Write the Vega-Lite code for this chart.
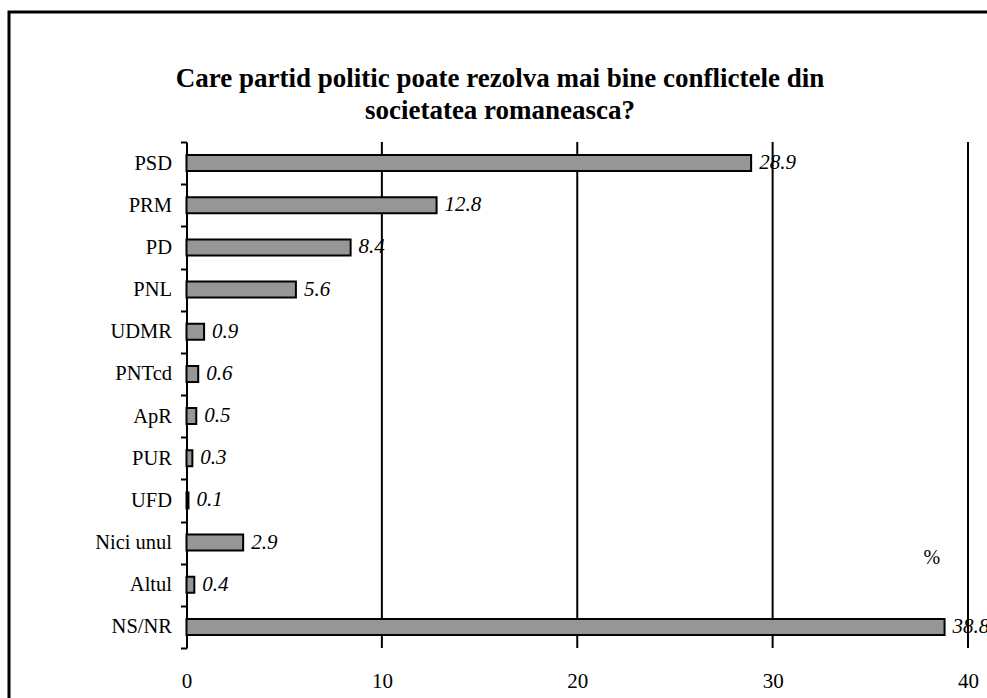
{
  "$schema": "https://vega.github.io/schema/vega-lite/v6.json",
  "width": 1000,
  "height": 700,
  "autosize": {"type": "none"},
  "padding": {"left": 9, "top": 12, "right": 0, "bottom": 0},
  "background": "white",
  "config": {
    "view": {"stroke": "black", "strokeWidth": 3},
    "font": "Liberation Serif"
  },
  "title": {
    "text": ["Care partid politic poate rezolva mai bine conflictele din", "societatea romaneasca?"],
    "font": "Liberation Serif",
    "fontSize": 27,
    "fontWeight": "bold",
    "color": "black",
    "anchor": "middle",
    "frame": "group",
    "baseline": "top",
    "offset": 0,
    "dy": 123,
    "dx": -9,
    "lineHeight": 32
  },
  "datasets": {
    "bars": [
      {"partid": "PSD", "procent": 28.9},
      {"partid": "PRM", "procent": 12.8},
      {"partid": "PD", "procent": 8.4},
      {"partid": "PNL", "procent": 5.6},
      {"partid": "UDMR", "procent": 0.9},
      {"partid": "PNTcd", "procent": 0.6},
      {"partid": "ApR", "procent": 0.5},
      {"partid": "PUR", "procent": 0.3},
      {"partid": "UFD", "procent": 0.1},
      {"partid": "Nici unul", "procent": 2.9},
      {"partid": "Altul", "procent": 0.4},
      {"partid": "NS/NR", "procent": 38.8}
    ],
    "grid": [{"g": 10}, {"g": 20}, {"g": 30}, {"g": 40}],
    "unit": [{"t": "%"}]
  },
  "layer": [
    {
      "data": {"name": "grid"},
      "mark": {"type": "rule", "color": "black", "strokeWidth": 2},
      "encoding": {
        "x": {"field": "g", "type": "quantitative"},
        "y": {"datum": "PSD", "type": "nominal", "bandPosition": 0},
        "y2": {"datum": "NS/NR", "bandPosition": 1}
      }
    },
    {
      "data": {"name": "bars"},
      "mark": {"type": "bar", "fill": "#969696", "stroke": "black", "strokeWidth": 2, "size": 16},
      "encoding": {
        "x": {
          "field": "procent",
          "type": "quantitative",
          "scale": {"domain": [0, 40], "range": [177.5, 959], "nice": false, "zero": true},
          "axis": {
            "orient": "bottom",
            "offset": -42,
            "domain": false,
            "ticks": false,
            "grid": false,
            "values": [0, 10, 20, 30, 40],
            "labelFontSize": 21,
            "labelFont": "Liberation Serif",
            "labelColor": "black",
            "labelPadding": 0,
            "labelBaseline": "top",
            "labelFlush": false,
            "title": null
          }
        },
        "y": {
          "field": "partid",
          "type": "nominal",
          "sort": null,
          "scale": {
            "domain": ["PSD", "PRM", "PD", "PNL", "UDMR", "PNTcd", "ApR", "PUR", "UFD", "Nici unul", "Altul", "NS/NR"],
            "range": [130, 636],
            "paddingInner": 0,
            "paddingOuter": 0
          },
          "axis": {
            "orient": "left",
            "offset": -177.5,
            "domainColor": "black",
            "domainWidth": 2,
            "tickColor": "black",
            "tickWidth": 2,
            "tickSize": 6,
            "tickBand": "extent",
            "labelFontSize": 20.5,
            "labelFont": "Liberation Serif",
            "labelColor": "black",
            "labelPadding": 9,
            "grid": false,
            "title": null
          }
        }
      }
    },
    {
      "data": {"name": "bars"},
      "mark": {"type": "text", "align": "left", "baseline": "middle", "dx": 8, "fontSize": 21, "fontStyle": "italic", "font": "Liberation Serif", "color": "black"},
      "encoding": {
        "x": {"field": "procent", "type": "quantitative"},
        "y": {"field": "partid", "type": "nominal", "sort": null},
        "text": {"field": "procent", "type": "quantitative", "format": ".1f"}
      }
    },
    {
      "data": {"name": "unit"},
      "mark": {"type": "text", "align": "center", "baseline": "middle", "dy": 15, "fontSize": 20, "font": "Liberation Serif", "color": "black"},
      "encoding": {
        "x": {"datum": 38.15, "type": "quantitative"},
        "y": {"datum": "Nici unul", "type": "nominal"},
        "text": {"field": "t", "type": "nominal"}
      }
    }
  ]
}
